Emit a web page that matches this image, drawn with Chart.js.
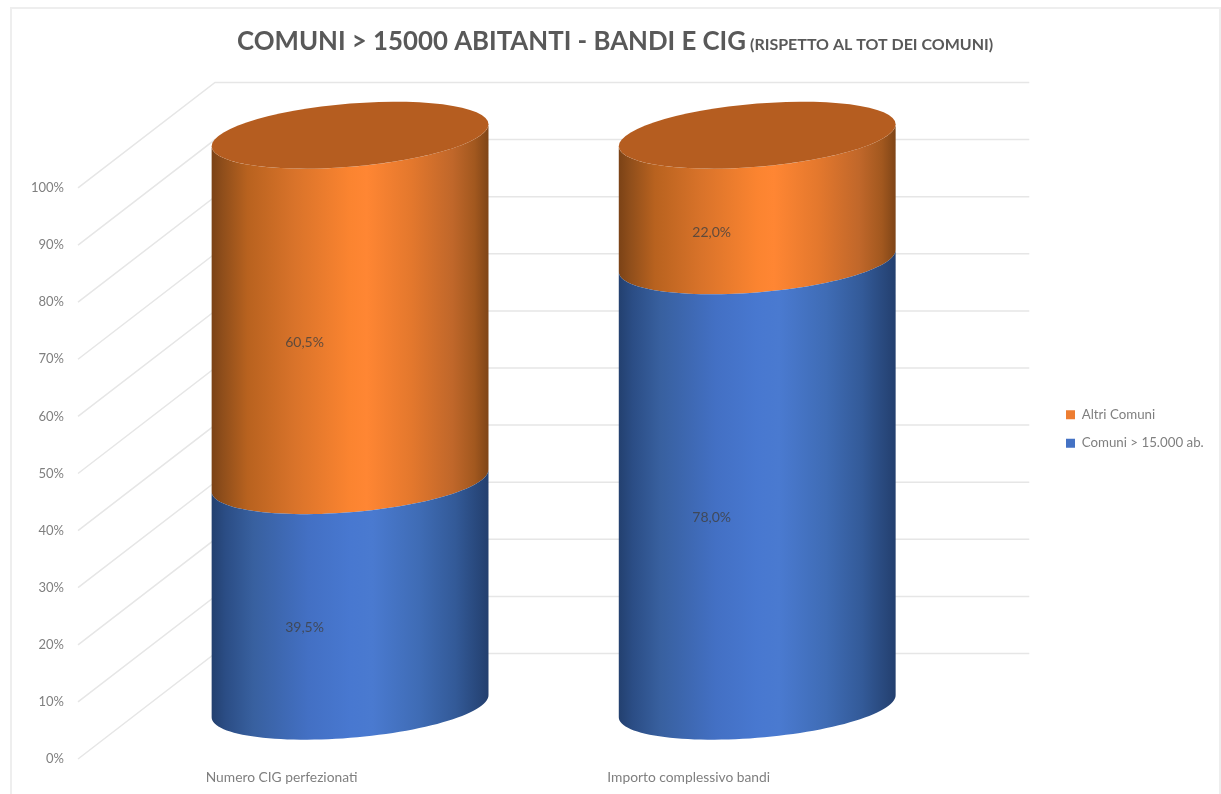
<!DOCTYPE html>
<html>
<head>
<meta charset="utf-8">
<style>
html, body { margin: 0; padding: 0; background: #fff; overflow: hidden; }
#frame { position: absolute; left: 10px; top: 7px; width: 1207px; height: 787px; border: 2px solid #eeeeee; border-bottom: 0; }
#wrap { position: absolute; left: 0; top: 0; width: 1221px; height: 794px; }
</style>
<script src="https://cdn.jsdelivr.net/npm/chart.js@4"></script>
</head>
<body>
<div id="frame"></div>
<div id="wrap"><canvas id="chart" width="1221" height="794"></canvas></div>
<script>
const categories = ["Numero CIG perfezionati", "Importo complessivo bandi"];
const comuniGrandi = [39.5, 78.0];
const altriComuni = [60.5, 22.0];
const titleMain = "COMUNI > 15000 ABITANTI - BANDI E CIG";
const titleSmall = "(RISPETTO AL TOT DEI COMUNI)";

const fontName = "Lato, 'Open Sans', sans-serif";
const depthX = 137, depthY = 105.5;
const capHalf = 31.6, capTilt = 11;

const orangeStops = [[0, "#7b4216"], [0.04, "#8f4e1b"], [0.13, "#b8621f"], [0.3, "#d9732a"], [0.5, "#fb8430"],
    [0.56, "#ff8633"], [0.72, "#e4782d"], [0.87, "#c0672a"], [0.95, "#a2581f"], [1, "#7f4517"]];
const blueStops = [[0, "#23406f"], [0.05, "#2b4d85"], [0.15, "#38609f"], [0.35, "#4370c4"], [0.5, "#4878d0"],
    [0.58, "#4a7ad0"], [0.75, "#3f6cb5"], [0.88, "#335a98"], [1, "#233f6e"]];
const stopsFor = [blueStops, orangeStops];
const capColor = "#b55d20";

// point on the tilted ellipse of a cylinder section
function ellipsePoint(cx, cy, r, t) {
    return [cx + r * Math.cos(t), cy + capHalf * Math.sin(t) - capTilt * Math.cos(t)];
}

function frontCurve(ctx, cx, cy, r, from, to) {
    for (let i = 0; i <= 60; i++) {
        const p = ellipsePoint(cx, cy, r, from + (to - from) * i / 60);
        ctx.lineTo(p[0], p[1]);
    }
}

const wallPlugin = {
    id: "wall",
    beforeDatasetsDraw(chart) {
        const { ctx, chartArea, scales } = chart;
        ctx.save();
        ctx.strokeStyle = "#e6e6e6";
        ctx.lineWidth = 1.5;
        scales.y.ticks.forEach(tick => {
            const y = scales.y.getPixelForValue(tick.value);
            ctx.beginPath();
            ctx.moveTo(chartArea.left, y);
            ctx.lineTo(chartArea.left + depthX, y - depthY);
            ctx.lineTo(chartArea.right + depthX, y - depthY);
            ctx.stroke();
        });
        ctx.restore();
    }
};

const cylinderPlugin = {
    id: "cylinder",
    beforeDatasetDraw(chart, args) {
        const { ctx } = chart;
        const last = chart.data.datasets.length - 1;
        args.meta.data.forEach(bar => {
            const p = bar.getProps(["x", "y", "base", "width"], true);
            const r = p.width / 2;
            const cx = p.x + depthX / 2;
            const top = p.y - depthY / 2;
            const bottom = p.base - depthY / 2;
            const grad = ctx.createLinearGradient(cx - r, 0, cx + r, 0);
            stopsFor[args.index].forEach(s => grad.addColorStop(s[0], s[1]));
            ctx.save();
            ctx.fillStyle = grad;
            ctx.beginPath();
            const start = ellipsePoint(cx, bottom, r, 0);
            ctx.moveTo(start[0], start[1]);
            frontCurve(ctx, cx, bottom, r, 0, Math.PI);
            frontCurve(ctx, cx, top, r, Math.PI, 0);
            ctx.closePath();
            ctx.fill();
            if (args.index === last) {
                ctx.fillStyle = capColor;
                ctx.beginPath();
                frontCurve(ctx, cx, top, r, 0, Math.PI * 2);
                ctx.closePath();
                ctx.fill();
            }
            ctx.restore();
        });
        return false;
    },
    afterDatasetsDraw(chart) {
        const { ctx } = chart;
        ctx.save();
        ctx.font = "14px " + fontName;
        ctx.fillStyle = "rgba(64,64,64,0.8)";
        ctx.textAlign = "center";
        ctx.textBaseline = "middle";
        chart.data.datasets.forEach((ds, i) => {
            chart.getDatasetMeta(i).data.forEach((bar, j) => {
                const p = bar.getProps(["x", "y", "base"], true);
                ctx.fillText(ds.data[j].toFixed(1).replace(".", ",") + "%", p.x + 23, (p.y + p.base) / 2 - 18.5);
            });
        });
        ctx.restore();
    }
};

const layoutPlugin = {
    id: "placing",
    afterLayout(chart) {
        // legend sits out past the back wall, title starts left of centre
        const lg = chart.legend;
        const w = lg.right - lg.left;
        lg.left = 1051;
        lg.right = lg.left + w;
        lg.top += 19;
        lg.bottom += 19;
        const tb = chart.titleBlock;
        const tw = tb.right - tb.left;
        tb.left = 237;
        tb.right = tb.left + tw;
    },
    afterDraw(chart) {
        const { ctx } = chart;
        ctx.save();
        ctx.font = "bold 16px " + fontName;
        ctx.fillStyle = "#595959";
        ctx.textAlign = "left";
        ctx.textBaseline = "alphabetic";
        ctx.fillText(titleSmall, 750, 50);
        ctx.restore();
    }
};

new Chart(document.getElementById("chart").getContext("2d"), {
    type: "bar",
    data: {
        labels: categories,
        datasets: [
            { label: "Comuni > 15.000 ab.", data: comuniGrandi, backgroundColor: "#4472c4", borderWidth: 0 },
            { label: "Altri Comuni", data: altriComuni, backgroundColor: "#ed7d31", borderWidth: 0 }
        ]
    },
    options: {
        responsive: false,
        animation: false,
        layout: { padding: { top: 26, right: 166, bottom: 0, left: 0 } },
        datasets: { bar: { categoryPercentage: 1, barPercentage: 0.68 } },
        scales: {
            x: {
                stacked: true,
                grid: { display: false },
                border: { display: false },
                afterFit: s => { s.height = 35; },
                ticks: { color: "#7f7f7f", font: { family: fontName, size: 13.8 }, padding: 2, maxRotation: 0 }
            },
            y: {
                stacked: true,
                min: 0,
                max: 100,
                grid: { display: false },
                border: { display: false },
                afterFit: s => { s.width = 78; },
                ticks: {
                    stepSize: 10,
                    color: "#7f7f7f",
                    font: { family: fontName, size: 13 },
                    padding: 6,
                    callback: v => v + "%"
                }
            }
        },
        plugins: {
            title: {
                display: true,
                text: titleMain,
                align: "start",
                color: "#595959",
                font: { family: fontName, size: 25.8, weight: "bold" },
                padding: { top: 0, bottom: 131 }
            },
            legend: {
                position: "right",
                reverse: true,
                labels: {
                    boxWidth: 9,
                    boxHeight: 9,
                    padding: 15,
                    color: "#7f7f7f",
                    font: { family: fontName, size: 13.3 }
                }
            },
            tooltip: { enabled: false }
        }
    },
    plugins: [wallPlugin, cylinderPlugin, layoutPlugin]
});
</script>
</body>
</html>
